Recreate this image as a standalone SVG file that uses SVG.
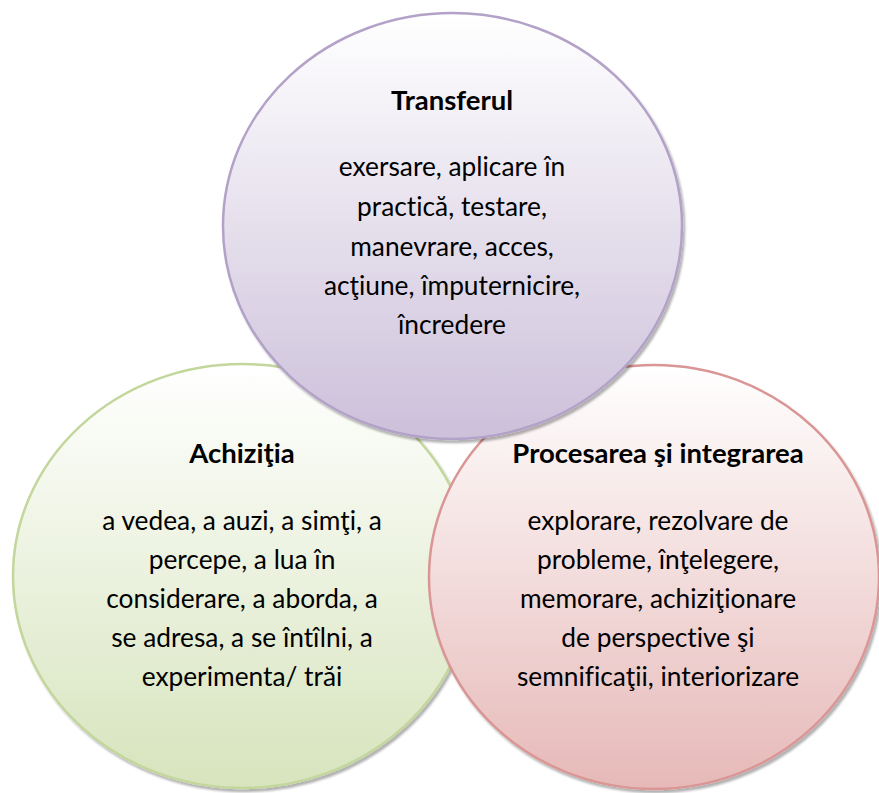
<svg xmlns="http://www.w3.org/2000/svg" width="879" height="793" viewBox="0 0 879 793">
  <defs>
    <linearGradient id="gPurple" x1="0" y1="0" x2="0" y2="1">
      <stop offset="0" stop-color="#ffffff"/>
      <stop offset="1" stop-color="#ccc0da"/>
    </linearGradient>
    <linearGradient id="gGreen" x1="0" y1="0" x2="0" y2="1">
      <stop offset="0" stop-color="#ffffff"/>
      <stop offset="1" stop-color="#d7e4bd"/>
    </linearGradient>
    <linearGradient id="gRed" x1="0" y1="0" x2="0" y2="1">
      <stop offset="0" stop-color="#ffffff"/>
      <stop offset="1" stop-color="#e6b9b8"/>
    </linearGradient>
    <filter id="shadow" x="-10%" y="-10%" width="120%" height="120%">
      <feDropShadow dx="2" dy="3" stdDeviation="1" flood-color="#000" flood-opacity="0.3"/>
    </filter>
  </defs>
  <style>
    .circle { stroke-width: 2.5; filter: url(#shadow); }
    .title { font-family: Lato, "Open Sans", sans-serif; font-weight: bold; font-size: 27.5px; fill: #000; text-anchor: middle; font-variant-ligatures: none; }
    .body { font-family: Lato, "Open Sans", sans-serif; font-size: 26.3px; fill: #000; text-anchor: middle; font-variant-ligatures: none; }
  </style>
  <g id="achizitia">
    <ellipse class="circle" cx="242.5" cy="576" rx="229.5" ry="212" fill="url(#gGreen)" stroke="#c3d69b"/>
    <text class="title" x="242" y="463">Achiziţia</text>
    <text class="body" x="242" y="530">a vedea, a auzi, a simţi, a</text>
    <text class="body" x="242" y="569">percepe, a lua în</text>
    <text class="body" x="242" y="608">considerare, a aborda, a</text>
    <text class="body" x="242" y="647">se adresa, a se întîlni, a</text>
    <text class="body" x="242" y="686">experimenta/ trăi</text>
  </g>
  <g id="procesarea">
    <ellipse class="circle" cx="654" cy="577" rx="225" ry="212" fill="url(#gRed)" stroke="#d99694"/>
    <text class="title" x="658" y="463">Procesarea şi integrarea</text>
    <text class="body" x="658" y="530">explorare, rezolvare de</text>
    <text class="body" x="658" y="569">probleme, înţelegere,</text>
    <text class="body" x="658" y="608">memorare, achiziţionare</text>
    <text class="body" x="658" y="647">de perspective şi</text>
    <text class="body" x="658" y="686">semnificaţii, interiorizare</text>
  </g>
  <g id="transferul">
    <ellipse class="circle" cx="452.5" cy="226" rx="229.5" ry="213" fill="url(#gPurple)" stroke="#b3a2c7"/>
    <text class="title" x="452" y="110">Transferul</text>
    <text class="body" x="452" y="176">exersare, aplicare în</text>
    <text class="body" x="452" y="216">practică, testare,</text>
    <text class="body" x="452" y="256">manevrare, acces,</text>
    <text class="body" x="452" y="295">acţiune, împuternicire,</text>
    <text class="body" x="452" y="334">încredere</text>
  </g>
</svg>
